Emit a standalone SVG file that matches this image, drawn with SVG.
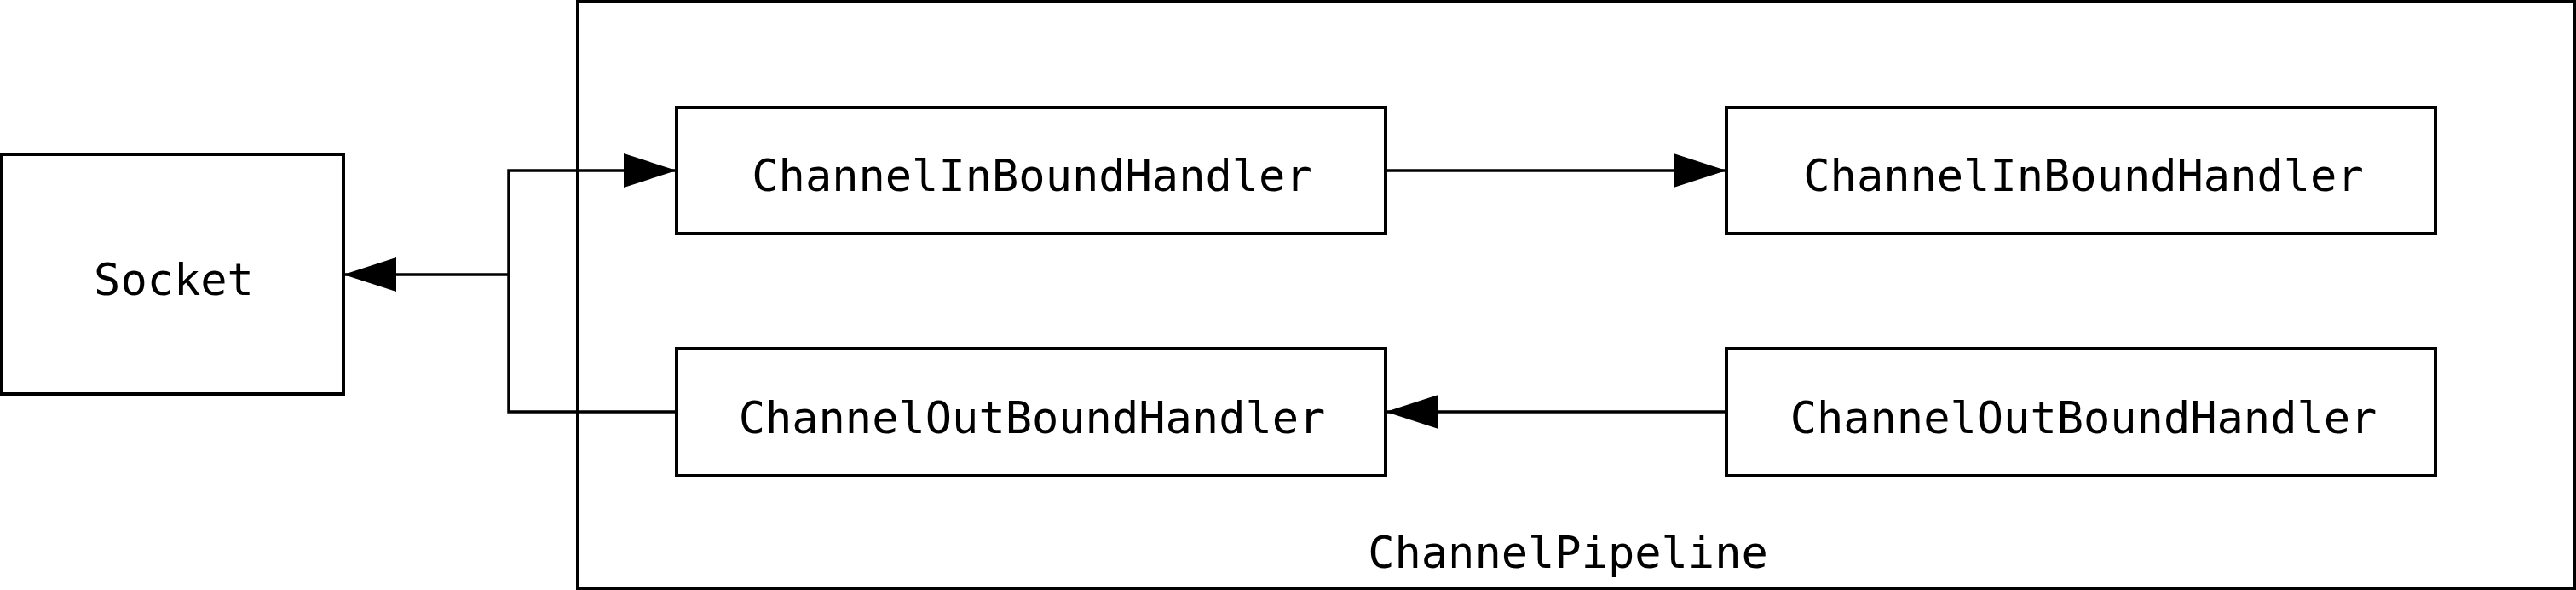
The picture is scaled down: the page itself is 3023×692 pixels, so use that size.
<svg xmlns="http://www.w3.org/2000/svg" width="3023" height="692" viewBox="0 0 3023 692">
  <style>
    .box { fill: #ffffff; stroke: #000000; stroke-width: 4; }
    .pipe { fill: none; stroke: #000000; stroke-width: 4; }
    .lbl { font-family: "DejaVu Sans Mono", "Liberation Mono", monospace; font-size: 52px; fill: #000000; text-anchor: middle; }
    .edge { fill: none; stroke: #000000; stroke-width: 3.5; }
  </style>
  <defs>
    <marker id="arrow" markerUnits="userSpaceOnUse" markerWidth="62" markerHeight="40" refX="62" refY="20" orient="auto">
      <path d="M0,0 L62,20 L0,40 Z" fill="#000000"/>
    </marker>
  </defs>
  <rect width="3023" height="692" fill="#ffffff"/>

  <g id="pipeline">
    <rect class="pipe" x="678" y="2" width="2343" height="688"/>
    <text class="lbl" x="1840" y="666">ChannelPipeline</text>
  </g>

  <g id="socket">
    <rect class="box" x="2" y="181" width="401" height="281"/>
    <text class="lbl" x="204" y="346">Socket</text>
  </g>

  <g id="inbound1">
    <rect class="box" x="794" y="126" width="832" height="148"/>
    <text class="lbl" x="1211" y="224">ChannelInBoundHandler</text>
  </g>

  <g id="inbound2">
    <rect class="box" x="2026" y="126" width="832" height="148"/>
    <text class="lbl" x="2445" y="224">ChannelInBoundHandler</text>
  </g>

  <g id="outbound1">
    <rect class="box" x="794" y="409" width="832" height="149"/>
    <text class="lbl" x="1211" y="508">ChannelOutBoundHandler</text>
  </g>

  <g id="outbound2">
    <rect class="box" x="2026" y="409" width="832" height="149"/>
    <text class="lbl" x="2445" y="508">ChannelOutBoundHandler</text>
  </g>

  <g id="connectors">
    <path class="edge" d="M597,322 V200 H794" marker-end="url(#arrow)"/>
    <path class="edge" d="M794,483 H597 V322 H403" marker-end="url(#arrow)"/>
    <path class="edge" d="M1626,200 H2026" marker-end="url(#arrow)"/>
    <path class="edge" d="M2026,483 H1626" marker-end="url(#arrow)"/>
  </g>
</svg>
